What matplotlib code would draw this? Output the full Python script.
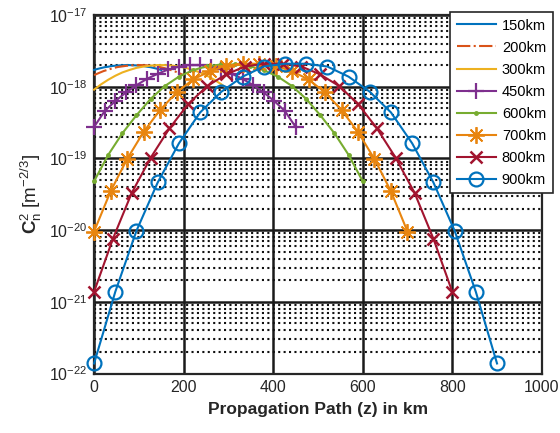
import matplotlib
matplotlib.use('Agg')
import matplotlib.pyplot as plt
import numpy as np
from matplotlib.ticker import FixedLocator, NullFormatter

plt.rcParams['font.family'] = ['Liberation Sans', 'DejaVu Sans']
plt.rcParams['mathtext.fontset'] = 'custom'
plt.rcParams['mathtext.rm'] = 'Liberation Sans'
plt.rcParams['mathtext.it'] = 'Liberation Sans:italic'
plt.rcParams['mathtext.bf'] = 'Liberation Sans:bold'
plt.rcParams['mathtext.default'] = 'regular'

# Cn^2 sampled at 20 evenly spaced points along each link (z = 0 .. L)
links_km = [150, 200, 300, 450, 600, 700, 800, 900]
labels = ['150km', '200km', '300km', '450km', '600km', '700km', '800km', '900km']

cn2_150 = [1.71e-18, 1.77e-18, 1.82e-18, 1.87e-18, 1.90e-18, 1.94e-18, 1.96e-18, 1.98e-18, 1.99e-18, 2.00e-18,
           2.00e-18, 1.99e-18, 1.98e-18, 1.96e-18, 1.94e-18, 1.90e-18, 1.87e-18, 1.82e-18, 1.77e-18, 1.71e-18]
cn2_200 = [1.45e-18, 1.55e-18, 1.65e-18, 1.73e-18, 1.81e-18, 1.88e-18, 1.92e-18, 1.96e-18, 1.99e-18, 2.00e-18,
           2.00e-18, 1.99e-18, 1.96e-18, 1.92e-18, 1.88e-18, 1.81e-18, 1.73e-18, 1.65e-18, 1.55e-18, 1.45e-18]
cn2_300 = [9.1e-19, 1.08e-18, 1.25e-18, 1.42e-18, 1.58e-18, 1.71e-18, 1.83e-18, 1.91e-18, 1.97e-18, 2.00e-18,
           2.00e-18, 1.97e-18, 1.91e-18, 1.83e-18, 1.71e-18, 1.58e-18, 1.42e-18, 1.25e-18, 1.08e-18, 9.1e-19]
cn2_450 = [2.75e-19, 4.57e-19, 6.3e-19, 8.3e-19, 1.05e-18, 1.29e-18, 1.51e-18, 1.74e-18, 1.90e-18, 2.00e-18,
           2.00e-18, 1.90e-18, 1.74e-18, 1.51e-18, 1.29e-18, 1.05e-18, 8.3e-19, 6.3e-19, 4.57e-19, 2.75e-19]
cn2_600 = [4.8e-20, 1.12e-19, 2.24e-19, 4.0e-19, 6.76e-19, 1.02e-18, 1.38e-18, 1.70e-18, 1.93e-18, 2.04e-18,
           2.04e-18, 1.93e-18, 1.70e-18, 1.38e-18, 1.02e-18, 6.76e-19, 4.0e-19, 2.24e-19, 1.12e-19, 4.8e-20]
cn2_700 = [9.55e-21, 3.47e-20, 9.77e-20, 2.34e-19, 4.73e-19, 8.32e-19, 1.26e-18, 1.64e-18, 1.95e-18, 2.09e-18,
           2.09e-18, 1.95e-18, 1.64e-18, 1.26e-18, 8.32e-19, 4.73e-19, 2.34e-19, 9.77e-20, 3.47e-20, 9.55e-21]
cn2_800 = [1.38e-21, 7.59e-21, 3.31e-20, 1.02e-19, 2.63e-19, 5.75e-19, 1.02e-18, 1.48e-18, 1.91e-18, 2.09e-18,
           2.09e-18, 1.91e-18, 1.48e-18, 1.02e-18, 5.75e-19, 2.63e-19, 1.02e-19, 3.31e-20, 7.59e-21, 1.38e-21]
cn2_900 = [1.38e-22, 1.38e-21, 9.8e-21, 4.62e-20, 1.62e-19, 4.37e-19, 8.5e-19, 1.38e-18, 1.91e-18, 2.09e-18,
           2.09e-18, 1.91e-18, 1.38e-18, 8.5e-19, 4.37e-19, 1.62e-19, 4.62e-20, 9.8e-21, 1.38e-21, 1.38e-22]

profiles = [cn2_150, cn2_200, cn2_300, cn2_450, cn2_600, cn2_700, cn2_800, cn2_900]

x_ticks = [0, 200, 400, 600, 800, 1000]
y_exponents = [-22, -21, -20, -19, -18, -17]

styles = [
    dict(color='#0072BD', ls='-', marker=None),
    dict(color='#D95319', ls='-.', marker=None),
    dict(color='#EDB120', ls='-', marker=None),
    dict(color='#7E2F8E', ls='-', marker='+', ms=12, mew=1.6),
    dict(color='#77AC30', ls='-', marker='.', ms=5),
    dict(color='#E8850F', ls='-', marker=(8, 2, 0), ms=12, mew=1.3),
    dict(color='#A2142F', ls='-', marker='x', ms=9, mew=1.8),
    dict(color='#0072BD', ls='-', marker='o', ms=10, mew=1.6, mfc='none'),
]

fig = plt.figure(figsize=(5.6, 4.33), dpi=100)
ax = fig.add_axes([0.168, 0.1374, 0.7995, 0.828])

for L, vals, lab, st in zip(links_km, profiles, labels, styles):
    z = np.linspace(0, L, len(vals))
    ax.plot(z, vals, lw=1.5, label=lab, clip_on=False, zorder=3, **st)

ax.set_yscale('log')
ax.set_xlim(0, 1000)
ax.set_ylim(1e-22, 1e-17)
ax.set_xticks(x_ticks)
major_y = [10.0 ** e for e in y_exponents]
ax.yaxis.set_major_locator(FixedLocator(major_y))
ax.set_yticklabels([r'$10^{%d}$' % e for e in y_exponents])
minor_y = [m * 10.0 ** e for e in y_exponents[:-1] for m in range(2, 10)]
ax.yaxis.set_minor_locator(FixedLocator(minor_y))
ax.yaxis.set_minor_formatter(NullFormatter())

ax.grid(True, which='major', color='#1a1a1a', lw=1.8, ls='-')
ax.grid(True, which='minor', axis='y', color='#111111', lw=1.5, ls=(0, (1, 1.6)))
ax.set_axisbelow(True)

for s in ax.spines.values():
    s.set_linewidth(1.6)
    s.set_color('#262626')
ax.tick_params(which='both', direction='in', length=0, labelsize=11.5, colors='#262626', pad=5)

ax.set_xlabel('Propagation Path (z) in km', fontsize=12.5, fontweight='bold', color='#262626', labelpad=5)
ax.set_ylabel(r'$\mathbf{C}_n^2$ [m$^{-2/3}$]', fontsize=13.5, color='#262626', labelpad=3)

leg = ax.legend(loc='upper left', bbox_to_anchor=(450 / 560, 1 - 12 / 433), bbox_transform=fig.transFigure,
                fancybox=False, framealpha=1, edgecolor='#262626', fontsize=10.5, handlelength=2.7,
                labelspacing=0.55, borderpad=0.45, handletextpad=0.4, borderaxespad=0)
leg.get_frame().set_linewidth(1.2)
leg.set_zorder(5)

fig.savefig('out.png', dpi=100)
